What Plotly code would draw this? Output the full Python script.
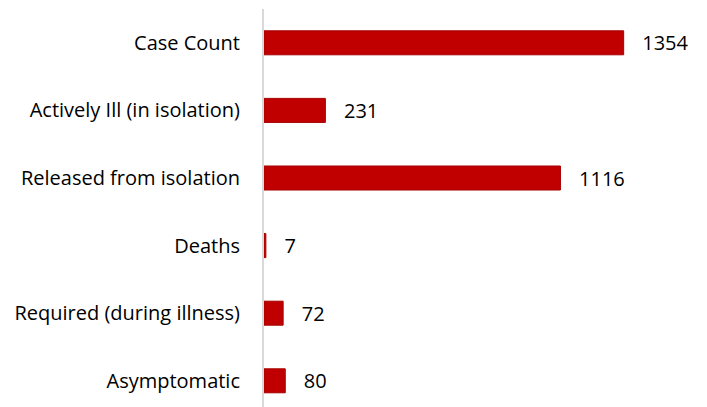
import plotly.graph_objects as go

categories = ["Case Count", "Actively Ill (in isolation)", "Released from isolation",
              "Deaths", "Required (during illness)", "Asymptomatic"]
values = [1354, 231, 1116, 7, 72, 80]

fig = go.Figure(go.Bar(
    x=values, y=categories, orientation="h",
    marker=dict(color="#C00000", line=dict(color="#A50000", width=1)),
    text=["   " + str(v) for v in values], textposition="outside",
    textfont=dict(size=20, color="#000000", family="Open Sans"),
    constraintext="none",
    cliponaxis=False, width=0.355,
))
fig.update_layout(
    width=707, height=407,
    margin=dict(l=256, r=26, t=1, b=0, autoexpand=False),
    plot_bgcolor="white", paper_bgcolor="white",
    font=dict(family="Open Sans", size=20, color="#000000"),
    showlegend=False,
    xaxis=dict(range=[0, 1600], visible=False, automargin=False),
    yaxis=dict(categoryorder="array", categoryarray=categories, automargin=False,
               range=[5.506, -0.5], showline=True, linecolor="#D9D9D9", linewidth=2,
               ticks="", ticklabelstandoff=18, showgrid=False, zeroline=False),
)
fig.write_html("out.html")
